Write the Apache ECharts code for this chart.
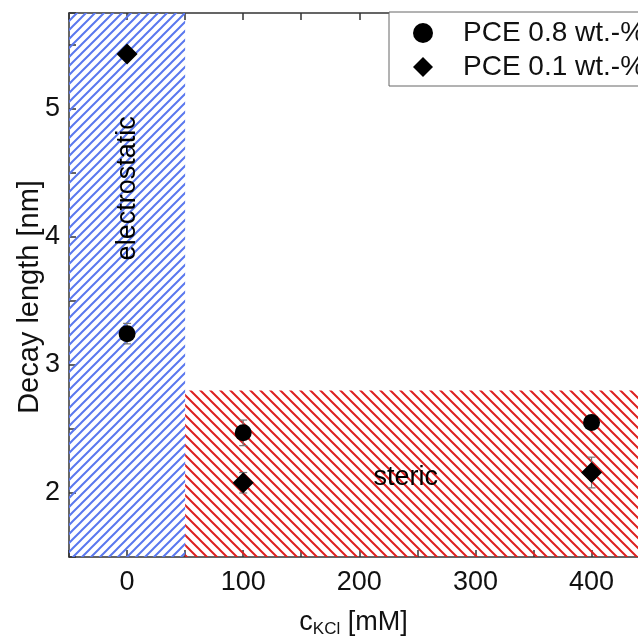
<!DOCTYPE html>
<html>
<head>
<meta charset="utf-8">
<script src="https://cdn.jsdelivr.net/npm/echarts@6/dist/echarts.min.js"></script>
<style>
html,body{margin:0;padding:0;background:#fff;}
#chart{width:638px;height:640px;}
</style>
</head>
<body>
<div id="chart"></div>
<script>
// ---- data ----
var concentrations = [0, 100, 400];
var pce08 = [3.245, 2.47, 2.55];
var pce08Err = [0.08, 0.10, 0.03];
var pce01 = [5.43, 2.08, 2.16];
var pce01Err = [0.03, 0.08, 0.12];
var seriesNames = ['PCE 0.8 wt.-%', 'PCE 0.1 wt.-%'];
var electrostaticRegion = [-50, 50, 1.5, 5.75];   // x0, x1, y0, y1
var stericRegion = [50, 440, 1.5, 2.8];
var regionLabels = ['electrostatic', 'steric'];
var regionLabelPos = [[0, 4.38], [240, 2.12]];
var xRange = [-50, 440];
var yRange = [1.5, 5.75];

var FONT = "'Liberation Sans', Arial, sans-serif";

function hatch(size, color, lw, forward) {
  var c = document.createElement('canvas');
  c.width = size; c.height = size;
  var g = c.getContext('2d');
  g.strokeStyle = color; g.lineWidth = lw;
  g.beginPath();
  if (forward) {
    g.moveTo(-1, 1); g.lineTo(1, -1);
    g.moveTo(0, size); g.lineTo(size, 0);
    g.moveTo(size - 1, size + 1); g.lineTo(size + 1, size - 1);
  } else {
    g.moveTo(-1, size - 1); g.lineTo(1, size + 1);
    g.moveTo(0, 0); g.lineTo(size, size);
    g.moveTo(size - 1, -1); g.lineTo(size + 1, 1);
  }
  g.stroke();
  return c;
}
var bluePat = { image: hatch(9, '#5a78ee', 2, true), repeat: 'repeat' };
var redPat = { image: hatch(10, '#dd2020', 2, false), repeat: 'repeat' };

function errData(vals, errs) {
  return concentrations.map(function (x, i) { return [x, vals[i] - errs[i], vals[i] + errs[i]]; });
}
function errRender(params, api) {
  var x = api.value(0);
  var lo = api.coord([x, api.value(1)]);
  var hi = api.coord([x, api.value(2)]);
  var w = 4;
  var st = { stroke: '#777', lineWidth: 1.2 };
  return {
    type: 'group',
    children: [
      { type: 'line', shape: { x1: lo[0], y1: lo[1], x2: hi[0], y2: hi[1] }, style: st },
      { type: 'line', shape: { x1: lo[0] - w, y1: lo[1], x2: lo[0] + w, y2: lo[1] }, style: st },
      { type: 'line', shape: { x1: hi[0] - w, y1: hi[1], x2: hi[0] + w, y2: hi[1] }, style: st }
    ]
  };
}

var axisLineStyle = { color: '#333', width: 1.5 };
var chart = echarts.init(document.getElementById('chart'), null, { renderer: 'canvas' });
chart.setOption({
  animation: false,
  backgroundColor: '#fff',
  textStyle: { fontFamily: FONT },
  grid: { left: 69, top: 13, bottom: 83, right: 0, containLabel: false, outerBoundsMode: 'none' },
  legend: {
    data: seriesNames,
    orient: 'vertical',
    left: 389, top: 12,
    backgroundColor: '#fff',
    borderColor: '#666', borderWidth: 1, borderRadius: 0,
    padding: [7, 30, 5, 24],
    itemWidth: 20, itemHeight: 20, itemGap: 6,
    textStyle: { fontFamily: FONT, fontSize: 28, color: '#111', padding: [0, 0, 0, 25] }
  },
  xAxis: [{
    type: 'value', min: xRange[0], max: xRange[1], interval: 50,
    name: '{a|c}{b|KCl}{a| [mM]}', nameLocation: 'middle', nameGap: 50,
    nameTextStyle: { fontFamily: FONT, fontSize: 27, color: '#111',
      rich: { a: { fontFamily: FONT, fontSize: 27, color: '#111' },
              b: { fontFamily: FONT, fontSize: 17, color: '#111', padding: [14, 0, 0, 0] } } },
    axisLine: { show: true, onZero: false, lineStyle: axisLineStyle },
    axisTick: { show: true, inside: true, length: 7, lineStyle: axisLineStyle },
    axisLabel: { fontFamily: FONT, fontSize: 27, color: '#111', margin: 12, showMaxLabel: false,
      formatter: function (v) { return (v % 100 === 0) ? String(v) : ''; } },
    splitLine: { show: false }
  }, {
    type: 'value', min: xRange[0], max: xRange[1], interval: 50, position: 'top',
    axisLine: { show: true, onZero: false, lineStyle: axisLineStyle },
    axisTick: { show: true, inside: true, length: 7, lineStyle: axisLineStyle },
    axisLabel: { show: false }, splitLine: { show: false }
  }],
  yAxis: [{
    type: 'value', min: yRange[0], max: yRange[1], interval: 0.5,
    name: 'Decay length [nm]', nameLocation: 'middle', nameGap: 25, nameMoveOverlap: false,
    nameTextStyle: { fontFamily: FONT, fontSize: 29, color: '#111', padding: [0, 24, 0, 0] },
    axisLine: { show: true, onZero: false, lineStyle: axisLineStyle },
    axisTick: { show: true, inside: true, length: 7, lineStyle: axisLineStyle },
    axisLabel: { fontFamily: FONT, fontSize: 27, color: '#111', margin: 9,
      formatter: function (v) { return (Math.abs(v - Math.round(v)) < 1e-9) ? String(Math.round(v)) : ''; } },
    splitLine: { show: false }
  }],
  series: [
    {
      name: 'regions', type: 'scatter', symbolSize: 0, silent: true, z: 1,
      itemStyle: { opacity: 1 },
      data: regionLabelPos.map(function (p, i) {
        return { value: p, name: regionLabels[i], label: { rotate: i === 0 ? 90 : 0 } };
      }),
      label: { show: true, position: 'inside', formatter: '{b}', fontFamily: FONT, fontSize: 27, color: '#000', opacity: 1 },
      markArea: {
        silent: true,
        data: [
          [{ coord: [electrostaticRegion[0], electrostaticRegion[2]], itemStyle: { color: bluePat, opacity: 1 } },
           { coord: [electrostaticRegion[1], electrostaticRegion[3]] }],
          [{ coord: [stericRegion[0], stericRegion[2]], itemStyle: { color: redPat, opacity: 1 } },
           { coord: [stericRegion[1], stericRegion[3]] }]
        ],
        label: { show: false }
      }
    },
    {
      type: 'custom', name: 'err08', renderItem: errRender, data: errData(pce08, pce08Err),
      encode: { x: 0, y: [1, 2] }, z: 3, silent: true
    },
    {
      type: 'custom', name: 'err01', renderItem: errRender, data: errData(pce01, pce01Err),
      encode: { x: 0, y: [1, 2] }, z: 3, silent: true
    },
    {
      name: seriesNames[0], type: 'scatter', symbol: 'circle', symbolSize: 17, z: 5,
      itemStyle: { color: '#000', opacity: 1 },
      data: concentrations.map(function (x, i) { return [x, pce08[i]]; })
    },
    {
      name: seriesNames[1], type: 'scatter', symbol: 'diamond', symbolSize: 21, z: 5,
      itemStyle: { color: '#000', opacity: 1 },
      data: concentrations.map(function (x, i) { return [x, pce01[i]]; })
    }
  ]
});
</script>
</body>
</html>
